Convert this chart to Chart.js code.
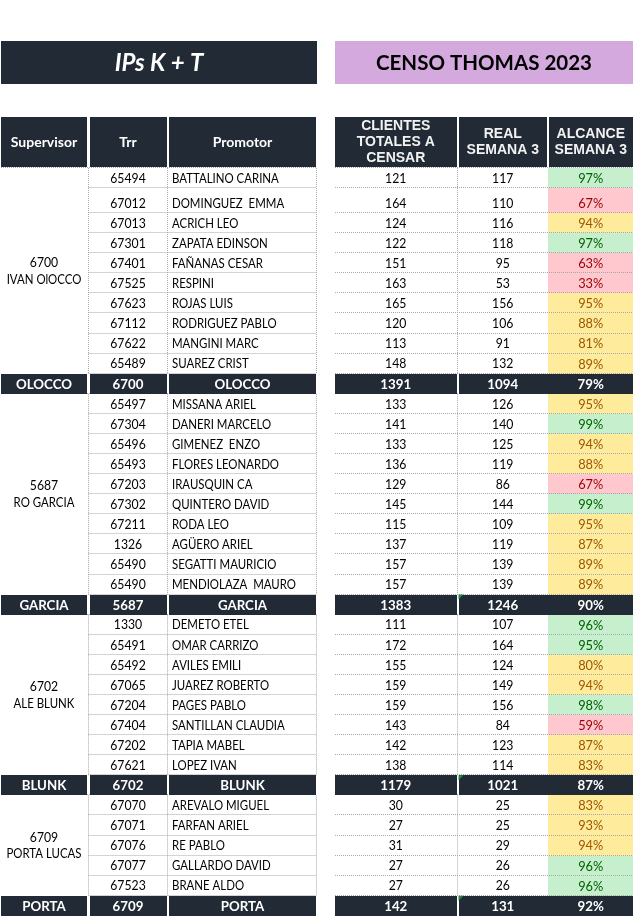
<!DOCTYPE html>
<html><head><meta charset="utf-8">
<script src="https://cdn.jsdelivr.net/npm/chart.js@4.4.0/dist/chart.umd.min.js"></script>
<style>html,body{margin:0;padding:0;background:#fff;}canvas{display:block;}</style>
</head><body>
<canvas id="c" width="633" height="916"></canvas>
<script>
// ---------- DATA ----------
const titleLeft = 'IPs K + T';
const titleRight = 'CENSO THOMAS 2023';
const headersLeft = ['Supervisor', 'Trr', 'Promotor'];
const headersRight = [['CLIENTES', 'TOTALES A', 'CENSAR'], ['REAL', 'SEMANA 3'], ['ALCANCE', 'SEMANA 3']];

const supCodes = ['6700', '5687', '6702', '6709'];
const supNames = ['IVAN OlOCCO', 'RO GARCIA', 'ALE BLUNK', 'PORTA LUCAS'];
const supShort = ['OLOCCO', 'GARCIA', 'BLUNK', 'PORTA'];

const trr1 = ['65494','67012','67013','67301','67401','67525','67623','67112','67622','65489'];
const pro1 = ['BATTALINO CARINA','DOMINGUEZ  EMMA','ACRICH LEO','ZAPATA EDINSON','FAÑANAS CESAR','RESPINI','ROJAS LUIS','RODRIGUEZ PABLO','MANGINI MARC','SUAREZ CRIST'];
const cli1 = [121,164,124,122,151,163,165,120,113,148];
const real1 = [117,110,116,118,95,53,156,106,91,132];
const alc1 = [97,67,94,97,63,33,95,88,81,89];

const trr2 = ['65497','67304','65496','65493','67203','67302','67211','1326','65490','65490'];
const pro2 = ['MISSANA ARIEL','DANERI MARCELO','GIMENEZ  ENZO','FLORES LEONARDO','IRAUSQUIN CA','QUINTERO DAVID','RODA LEO','AGÜERO ARIEL','SEGATTI MAURICIO','MENDIOLAZA  MAURO'];
const cli2 = [133,141,133,136,129,145,115,137,157,157];
const real2 = [126,140,125,119,86,144,109,119,139,139];
const alc2 = [95,99,94,88,67,99,95,87,89,89];

const trr3 = ['1330','65491','65492','67065','67204','67404','67202','67621'];
const pro3 = ['DEMETO ETEL','OMAR CARRIZO','AVILES EMILI','JUAREZ ROBERTO','PAGES PABLO','SANTILLAN CLAUDIA','TAPIA MABEL','LOPEZ IVAN'];
const cli3 = [111,172,155,159,159,143,142,138];
const real3 = [107,164,124,149,156,84,123,114];
const alc3 = [96,95,80,94,98,59,87,83];

const trr4 = ['67070','67071','67076','67077','67523'];
const pro4 = ['AREVALO MIGUEL','FARFAN ARIEL','RE PABLO','GALLARDO DAVID','BRANE ALDO'];
const cli4 = [30,27,31,27,27];
const real4 = [25,25,29,26,26];
const alc4 = [83,93,94,96,96];

const totCli = [1391, 1383, 1179, 142];
const totReal = [1094, 1246, 1021, 131];
const totAlc = [79, 90, 87, 92];

// ---------- LAYOUT (not data) ----------
const groups = [
  {trr: trr1, pro: pro1, cli: cli1, real: real1, alc: alc1},
  {trr: trr2, pro: pro2, cli: cli2, real: real2, alc: alc2},
  {trr: trr3, pro: pro3, cli: cli3, real: real3, alc: alc3},
  {trr: trr4, pro: pro4, cli: cli4, real: real4, alc: alc4}
];
const L = {
  titleTop: 41, titleBot: 84,
  titleL: [1, 317], titleR: [335, 633],
  headTop: 117, headBot: 167,
  tableTop: 168, rowH: 20.08, tallRow: 25,
  sup: [1, 87], trr: [89.5, 166.5], pro: [169, 316],
  cli: [335, 456.5], real: [458.5, 547], alc: [548.5, 633],
  gridX: [88.5, 167.5, 316.5, 457.5]
};
const DARK = '#222a35';
const FILL = {g: '#c6efce', y: '#ffeb9c', r: '#ffc7ce'};
const TXT = {g: '#006100', y: '#9c5700', r: '#9c0006'};
const FONT = 'Lato, "Open Sans", sans-serif';
const AFONT = '"Liberation Sans", Arial, sans-serif';

function band(real, cli) {
  const r = real / cli;
  return r >= 0.95 ? 'g' : (r < 0.75 ? 'r' : 'y');
}

const rows = [];
let yCur = L.tableTop;
groups.forEach((g, gi) => {
  const start = yCur;
  g.trr.forEach((t, i) => {
    const h = (gi === 0 && i === 1) ? L.tallRow : L.rowH;
    rows.push({kind: 'd', gi, i, y0: yCur, y1: yCur + h});
    yCur += h;
  });
  g.start = start; g.end = yCur;
  rows.push({kind: 's', gi, y0: yCur, y1: yCur + L.rowH});
  yCur += L.rowH;
});

const tablePlugin = {
  id: 'table',
  afterDraw(chart) {
    const ctx = chart.ctx;
    const X = v => chart.scales.x.getPixelForValue(v);
    const Y = v => chart.scales.y.getPixelForValue(v);
    const rect = (x0, x1, y0, y1, c) => {
      ctx.fillStyle = c;
      ctx.fillRect(Math.round(X(x0)), Math.round(Y(y0)), Math.round(X(x1)) - Math.round(X(x0)), Math.round(Y(y1)) - Math.round(Y(y0)));
    };
    const text = (s, x, y, font, color, align, sx) => {
      ctx.save();
      ctx.font = font; ctx.fillStyle = color;
      ctx.textAlign = align || 'center'; ctx.textBaseline = 'middle';
      const k = sx || 1;
      ctx.translate(X(x), Y(y));
      ctx.scale(k, 1);
      ctx.fillText(s, 0, 0);
      ctx.restore();
    };
    const mid = a => (a[0] + a[1]) / 2;
    ctx.save();
    // titles
    rect(L.titleL[0], L.titleL[1], L.titleTop, L.titleBot, DARK);
    rect(L.titleR[0], L.titleR[1], L.titleTop, L.titleBot, '#d4a9de');
    text(titleLeft, mid(L.titleL), 63, 'italic bold 24px ' + FONT, '#ffffff');
    text(titleRight, mid(L.titleR), 63, 'bold 20.5px ' + FONT, '#000000');
    // headers
    [L.sup, L.trr, L.pro].forEach((c, i) => {
      rect(c[0], c[1], L.headTop, L.headBot, DARK);
      text(headersLeft[i], mid(c), 142, 'bold 14px ' + FONT, '#ffffff');
    });
    [L.cli, L.real, L.alc].forEach((c, i) => {
      const x0 = i === 2 ? c[0] + 0.5 : c[0];
      rect(x0, c[1], L.headTop, L.headBot, DARK);
      const lines = headersRight[i];
      const lh = 16;
      const y0 = 142 - (lines.length - 1) * lh / 2;
      lines.forEach((s, k) => text(s, mid(c), y0 + k * lh, 'bold 14px ' + AFONT, '#f2f2f2'));
    });
    // alcance fills
    rows.forEach(r => {
      if (r.kind !== 'd') return;
      const g = groups[r.gi];
      rect(L.alc[0] - 0.5, L.alc[1], r.y0, r.y1, FILL[band(g.real[r.i], g.cli[r.i])]);
    });
    // dotted grid
    ctx.strokeStyle = '#a8a8a8'; ctx.lineWidth = 1; ctx.setLineDash([1, 1]);
    const hline = (x0, x1, y) => { const yy = Math.round(Y(y)) + 0.5; ctx.beginPath(); ctx.moveTo(X(x0), yy); ctx.lineTo(X(x1), yy); ctx.stroke(); };
    const vline = (x, y0, y1) => { ctx.beginPath(); ctx.moveTo(X(x), Y(y0)); ctx.lineTo(X(x), Y(y1)); ctx.stroke(); };
    rows.forEach(r => {
      if (r.kind !== 'd') return;
      hline(L.trr[0] - 1, L.pro[1], r.y1 - 1);
      hline(L.cli[0], L.alc[1], r.y1 - 1);
      if (r.i === 0) {
        hline(L.sup[0], L.pro[1], r.y0 - 1);
        hline(L.cli[0], L.alc[1], r.y0 - 1);
      }
    });
    groups.forEach(g => {
      L.gridX.forEach(x => vline(x, g.start, g.end));
    });
    hline(L.sup[0], L.alc[1], rows[rows.length - 1].y1);
    ctx.setLineDash([]);
    // data text
    const df = '13px ' + FONT;
    const nameScale = 0.88;
    rows.forEach(r => {
      const ty = r.y1 - 9.5;
      if (r.kind === 'd') {
        const g = groups[r.gi];
        text(g.trr[r.i], mid(L.trr), ty, df, '#000', 'center', 0.94);
        text(g.pro[r.i], L.pro[0] + 3, ty, df, '#000', 'left', nameScale);
        text(String(g.cli[r.i]), mid(L.cli), ty, df, '#000', 'center', 0.94);
        text(String(g.real[r.i]), mid(L.real), ty, df, '#000', 'center', 0.94);
        text(g.alc[r.i] + '%', mid(L.alc), ty, '13.5px ' + FONT, TXT[band(g.real[r.i], g.cli[r.i])], 'center', 0.95);
      } else {
        const gi = r.gi;
        rect(L.sup[0], L.sup[1], r.y0, r.y1, DARK);
        rect(L.trr[0], L.trr[1], r.y0, r.y1, DARK);
        rect(L.pro[0], L.pro[1], r.y0, r.y1, DARK);
        rect(L.cli[0], L.cli[1], r.y0, r.y1, DARK);
        rect(L.real[0], L.alc[1], r.y0, r.y1, DARK);
        const bf = 'bold 14px ' + FONT;
        const cy = (r.y0 + r.y1) / 2 + 0.5;
        text(supShort[gi], mid(L.sup), cy, bf, '#fff', 'center', 0.95);
        text(supCodes[gi], mid(L.trr), cy, bf, '#fff', 'center', 0.95);
        text(supShort[gi], mid(L.pro), cy, bf, '#fff', 'center', 0.95);
        text(String(totCli[gi]), mid(L.cli), cy, bf, '#fff', 'center', 0.95);
        text(String(totReal[gi]), mid(L.real), cy, bf, '#fff', 'center', 0.95);
        text(totAlc[gi] + '%', mid(L.alc), cy, bf, '#fff', 'center', 0.95);
        if (gi > 0) {
          ctx.fillStyle = '#1e8c3a';
          ctx.beginPath();
          ctx.moveTo(X(L.real[0]), Y(r.y0));
          ctx.lineTo(X(L.real[0] + 5), Y(r.y0));
          ctx.lineTo(X(L.real[0]), Y(r.y0 + 5));
          ctx.closePath(); ctx.fill();
        }
      }
    });
    // supervisor merged cells
    groups.forEach((g, gi) => {
      const c = (g.start + g.end) / 2;
      text(supCodes[gi], mid(L.sup), c - 8, df, '#000', 'center', 0.94);
      text(supNames[gi], mid(L.sup), c + 8.5, df, '#000', 'center', nameScale);
    });
    ctx.restore();
  }
};

new Chart(document.getElementById('c'), {
  type: 'scatter',
  data: {datasets: [{data: [], pointRadius: 0}]},
  options: {
    responsive: false, animation: false, devicePixelRatio: 1,
    layout: {padding: 0},
    plugins: {legend: {display: false}, tooltip: {enabled: false}},
    scales: {
      x: {type: 'linear', min: 0, max: 633, display: false},
      y: {type: 'linear', min: 0, max: 916, reverse: true, display: false}
    }
  },
  plugins: [tablePlugin]
});
</script>
</body></html>
